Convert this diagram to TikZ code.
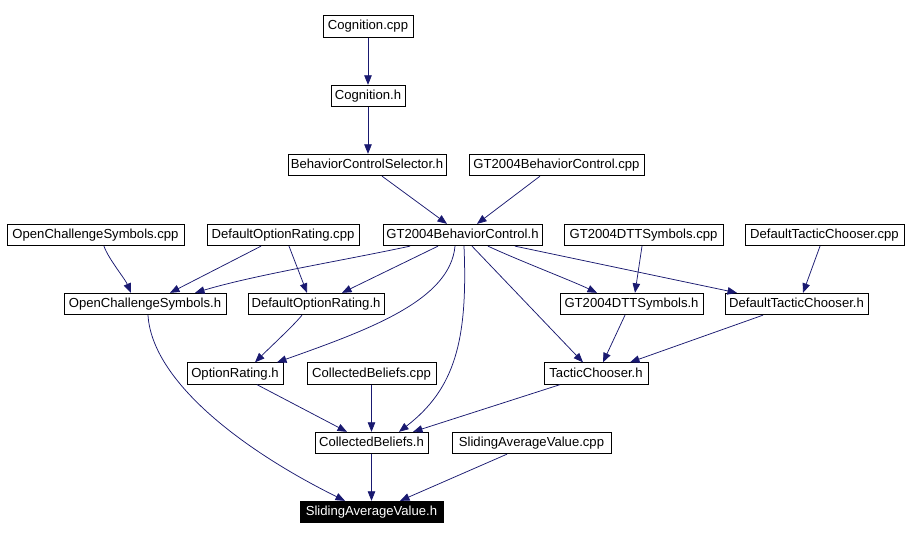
\documentclass[tikz,border=0pt]{standalone}
\usepackage{fontspec}
\setmainfont{Liberation Sans}
\usetikzlibrary{arrows.meta}
\definecolor{edgeblue}{HTML}{191970}
\tikzset{
  file/.style={draw=black, line width=0.8pt, fill=white, rectangle, inner sep=0pt,
    minimum height=21.5pt, text height=9.6pt, text depth=2.6pt,
    font=\fontsize{13.1}{14}\selectfont},
  here/.style={file, fill=black, text=white},
  dep/.style={draw=edgeblue, line width=0.75pt, -{Triangle[length=9.5pt,width=7.5pt]}, edgeblue}
}
\begin{document}
\begin{tikzpicture}[x=1pt,y=-1pt]
\useasboundingbox (0,0) rectangle (908,540);
% nodes
\node[file, minimum width=90pt]  (cogcpp)  at (368,26.5) {Cognition.cpp};
\node[file, minimum width=74pt]  (cogh)    at (368,96)   {Cognition.h};
\node[file, minimum width=158pt] (bcs)     at (367,165)  {BehaviorControlSelector.h};
\node[file, minimum width=175pt] (gtbccpp) at (556.5,165) {GT2004BehaviorControl.cpp};
\node[file, minimum width=177pt] (ocscpp)  at (95.5,235) {OpenChallengeSymbols.cpp};
\node[file, minimum width=152pt] (dorcpp)  at (283,235)  {DefaultOptionRating.cpp};
\node[file, minimum width=159pt] (gtbch)   at (462.5,235) {GT2004BehaviorControl.h};
\node[file, minimum width=159pt] (dttcpp)  at (643.5,235) {GT2004DTTSymbols.cpp};
\node[file, minimum width=159pt] (dtccpp)  at (824.5,235) {DefaultTacticChooser.cpp};
\node[file, minimum width=162pt] (ocsh)    at (145,304)  {OpenChallengeSymbols.h};
\node[file, minimum width=136pt] (dorh)    at (316,304)  {DefaultOptionRating.h};
\node[file, minimum width=143pt] (dtth)    at (631.5,304) {GT2004DTTSymbols.h};
\node[file, minimum width=143pt] (dtch)    at (796.5,304) {DefaultTacticChooser.h};
\node[file, minimum width=96pt]  (orh)     at (235,373.5) {OptionRating.h};
\node[file, minimum width=129pt] (cbcpp)   at (371.5,373.5) {CollectedBeliefs.cpp};
\node[file, minimum width=104pt] (tch)     at (596,373.5) {TacticChooser.h};
\node[file, minimum width=113pt] (cbh)     at (371.5,443) {CollectedBeliefs.h};
\node[file, minimum width=159pt] (savcpp)  at (531.5,443) {SlidingAverageValue.cpp};
\node[here, minimum width=143pt] (savh)    at (371.5,512) {SlidingAverageValue.h};
% edges
\draw[dep] (cogcpp.south) -- (cogh.north);
\draw[dep] (cogh.south) -- ([xshift=1pt]bcs.north);
\draw[dep] ([xshift=15pt]bcs.south) -- ([xshift=-15.5pt]gtbch.north);
\draw[dep] ([xshift=-16.5pt]gtbccpp.south) -- ([xshift=14.5pt]gtbch.north);
\draw[dep] ([xshift=8.5pt]ocscpp.south) .. controls +(4,12) and +(-6,-14) .. ([xshift=-14pt]ocsh.north);
\draw[dep] ([xshift=-22pt]dorcpp.south) -- ([xshift=25pt]ocsh.north);
\draw[dep] ([xshift=6pt]dorcpp.south) -- ([xshift=-9pt]dorh.north);
\draw[dep] ([xshift=-52.5pt]gtbch.south) .. controls +(-70,15) and +(60,-18) .. ([xshift=50pt]ocsh.north);
\draw[dep] ([xshift=-24.5pt]gtbch.south) -- ([xshift=26pt]dorh.north);
\draw[dep] ([xshift=-7.5pt]gtbch.south) .. controls +(-5,54) and +(93,-33) .. ([xshift=42pt]orh.north);
\draw[dep] ([xshift=1.5pt]gtbch.south) .. controls +(4,94) and +(56,-43) .. ([xshift=27.5pt]cbh.north);
\draw[dep] ([xshift=9.5pt]gtbch.south) -- ([xshift=-13pt]tch.north);
\draw[dep] ([xshift=25.5pt]gtbch.south) .. controls +(30,14) and +(-25,-12) .. ([xshift=-34.5pt]dtth.north);
\draw[dep] ([xshift=52.5pt]gtbch.south) -- ([xshift=-59.5pt]dtch.north);
\draw[dep] ([xshift=-1.5pt]dttcpp.south) -- ([xshift=3.5pt]dtth.north);
\draw[dep] ([xshift=-4.5pt]dtccpp.south) -- ([xshift=6.5pt]dtch.north);
\draw[dep] ([xshift=-14pt]dorh.south) .. controls +(-8,10) and +(15,-15) .. ([xshift=20pt]orh.north);
\draw[dep] ([xshift=-6.5pt]dtth.south) -- ([xshift=7pt]tch.north);
\draw[dep] ([xshift=-33.5pt]dtch.south) -- ([xshift=34pt]tch.north);
\draw[dep] ([xshift=3pt]ocsh.south) .. controls +(4,65) and +(-105,-52) .. ([xshift=-26.5pt]savh.north);
\draw[dep] ([xshift=22pt]orh.south) -- ([xshift=-24.5pt]cbh.north);
\draw[dep] (cbcpp.south) -- (cbh.north);
\draw[dep] ([xshift=-36pt]tch.south) -- ([xshift=41.5pt]cbh.north);
\draw[dep] (cbh.south) -- (savh.north);
\draw[dep] ([xshift=-24.5pt]savcpp.south) -- ([xshift=28.5pt]savh.north);
\end{tikzpicture}
\end{document}
